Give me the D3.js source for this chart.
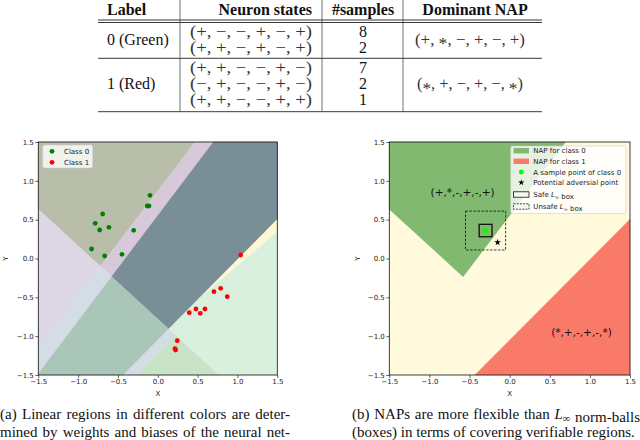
<!DOCTYPE html>
<html><head><meta charset="utf-8">
<script src="https://cdn.jsdelivr.net/npm/d3@7"></script>
<style>body{margin:0;background:#fff} svg{display:block}</style>
</head><body>
<script>
// ---------- data ----------
const tableHeaders = ["Label", "Neuron states", "#samples", "Dominant NAP"];
const tableLabels = ["0 (Green)", "1 (Red)"];
const neuronStates = [
  ["(+, −, −, +, −, +)", "(+, +, −, +, −, +)"],
  ["(+, +, −, −, +, −)", "(−, +, −, −, +, −)", "(+, +, −, −, +, +)"]
];
const sampleCounts = [[8, 2], [7, 2, 1]];
const dominantNAPs = ["(+, *, −, +, −, +)", "(*, +, −, +, −, *)"];

const tickValues = [-1.5, -1.0, -0.5, 0.0, 0.5, 1.0, 1.5];

const class0X = [-0.098, -0.132, -0.111, -0.692, -0.785, -0.613, -0.730, -0.303, -0.831, -0.667, -0.450];
const class0Y = [0.813, 0.676, 0.676, 0.573, 0.453, 0.401, 0.367, 0.363, 0.122, 0.032, 0.054];
const class1X = [1.040, 0.705, 0.789, 0.872, 0.395, 0.479, 0.533, 0.592, 0.245, 0.215, 0.224];
const class1Y = [0.045, -0.427, -0.384, -0.491, -0.697, -0.650, -0.706, -0.650, -1.058, -1.161, -1.178];

// neuron boundary lines (two points each, data coords)
const boundaryLines = {
  A: [[-1.5, 0.633], [0.764, -1.5]],
  B: [[-1.5, -1.148], [0.467, 1.5]],
  C: [[-1.5, -1.483], [0.697, 1.5]],
  D: [[-0.433, -1.5], [1.5, 0.504]],
  E: [[-0.266, -1.5], [1.5, 0.345]],
  F: [[0.5, -0.532], [1.5, 0.345]]
};
// linear regions: which side of each line
const leftRegions = [
  {id: "olive",   sides: [["A", 1], ["B", 1]]},
  {id: "pink",    sides: [["A", 1], ["B", -1], ["C", 1]]},
  {id: "slate",   sides: [["A", 1], ["C", -1], ["D", 1]]},
  {id: "yellow",  sides: [["A", 1], ["D", -1], ["F", 1]]},
  {id: "mint",    sides: [["A", 1], ["D", -1], ["F", -1]]},
  {id: "lavender",sides: [["A", -1], ["B", 1]]},
  {id: "blue1",   sides: [["A", -1], ["B", -1], ["C", 1]]},
  {id: "sage",    sides: [["A", -1], ["C", -1], ["D", 1]]},
  {id: "blue2",   sides: [["A", -1], ["D", -1], ["E", 1]]},
  {id: "pale",    sides: [["A", -1], ["E", -1]]}
];
const rightRegions = [
  {id: "nap0", sides: [["A", 1], ["C", 1]]},
  {id: "nap1", sides: [["D", -1]]}
];
const samplePoint = [-0.30, 0.36];
const adversarialPoint = [-0.15, 0.208];
const safeRadius = 0.08;
const unsafeRadius = 0.25;
const napLabels = [{text: "(+,*,-,+,-,+)", x: -0.586, y: 0.848}, {text: "(*,+,-,+,-,*)", x: 0.895, y: -0.955}];
const leftLegend = ["Class 0", "Class 1"];
const rightLegend = ["NAP for class 0", "NAP for class 1", "A sample point of class 0", "Potential adversial point", "Safe |L∞| box", "Unsafe |L∞| box"];
const captionA = ["(a) Linear regions in different colors are deter-", "mined by weights and biases of the neural net-"];
const captionB = ["(b) NAPs are more flexible than |L∞| norm-balls", "(boxes) in terms of covering verifiable regions."];

// ---------- styles ----------
const regionColors = {
  olive: "#b8bea9", pink: "#d8c9da", slate: "#7a8e97", yellow: "#fdf7d3", mint: "#d9f0de",
  lavender: "#dcd6e5", blue1: "#d4dce6", sage: "#a9c6b8", blue2: "#d4dce6", pale: "#c9e3c8",
  nap0: "#80b96f", nap1: "#fa7a6a"
};
const W = 640, H = 440;
const svg = d3.select("body").append("svg").attr("width", W).attr("height", H)
  .attr("font-family", "DejaVu Sans");

// ---------- table ----------
const serif = "Liberation Serif";
const tb = svg.append("g").attr("font-family", serif).attr("fill", "#111");
const tL = 98, tR = 542;
const colLines = [180, 322, 403];
const ruleYs = [20, 22.5, 58.3, 111.7];
ruleYs.forEach(y => tb.append("line").attr("x1", tL).attr("x2", tR).attr("y1", y).attr("y2", y).attr("stroke", "#222").attr("stroke-width", 0.9));
colLines.forEach(x => tb.append("line").attr("x1", x).attr("x2", x).attr("y1", 0).attr("y2", 111.7).attr("stroke", "#333").attr("stroke-width", 0.7));
const hdr = [{x: 107, a: "start"}, {x: 312, a: "end"}, {x: 363, a: "middle"}, {x: 475, a: "middle"}];
tableHeaders.forEach((h, i) => tb.append("text").attr("x", hdr[i].x).attr("y", 15).attr("text-anchor", hdr[i].a)
  .attr("font-weight", "bold").attr("font-size", 16).text(h));

function napText(sel, str) {
  // asterisks lowered to the math axis
  const chunks = str.split("*");
  chunks.forEach((c, i) => {
    if (i > 0) sel.append("tspan").attr("dy", 4.5).attr("font-size", 17).text("*");
    sel.append("tspan").attr("dy", i > 0 ? -4.5 : 0).text(c);
  });
}
const rowStart = [36.5, 73];
const step = 16;
tableLabels.forEach((lab, r) => {
  const n = neuronStates[r].length;
  const mid = rowStart[r] + (n - 1) * step / 2;
  tb.append("text").attr("x", 107).attr("y", mid).attr("font-size", 16).text(lab);
  neuronStates[r].forEach((s, k) => {
    tb.append("text").attr("x", 251).attr("y", rowStart[r] + k * step).attr("text-anchor", "middle")
      .attr("font-size", 16).attr("fill", "#333").attr("textLength", 122).attr("lengthAdjust", "spacingAndGlyphs").text(s);
    tb.append("text").attr("x", 363).attr("y", rowStart[r] + k * step).attr("text-anchor", "middle")
      .attr("font-size", 16).text(sampleCounts[r][k]);
  });
  const dt = tb.append("text").attr("x", 470).attr("y", mid).attr("text-anchor", "middle").attr("font-size", 16).attr("fill", "#333")
    .attr("textLength", r === 0 ? 110 : 106).attr("lengthAdjust", "spacingAndGlyphs");
  napText(dt, dominantNAPs[r]);
});

// ---------- geometry helpers ----------
function lineEq(name) {
  const [[x0, y0], [x1, y1]] = boundaryLines[name];
  const m = (y1 - y0) / (x1 - x0);
  return {m, c: y0 - m * x0};
}
function clip(poly, name, side) {
  const {m, c} = lineEq(name);
  const f = p => (p[1] - (m * p[0] + c)) * side;
  const out = [];
  for (let i = 0; i < poly.length; i++) {
    const a = poly[i], b = poly[(i + 1) % poly.length];
    const fa = f(a), fb = f(b);
    if (fa >= 0) out.push(a);
    if ((fa >= 0) !== (fb >= 0)) {
      const t = fa / (fa - fb);
      out.push([a[0] + t * (b[0] - a[0]), a[1] + t * (b[1] - a[1])]);
    }
  }
  return out;
}
function regionPoly(reg) {
  let poly = [[-1.5, -1.5], [1.5, -1.5], [1.5, 1.5], [-1.5, 1.5]];
  reg.sides.forEach(([n, s]) => { if (poly.length) poly = clip(poly, n, s); });
  return poly;
}
function mathText(sel, str, size) {
  // splits "|L∞|" into italic L with subscript ∞
  const parts = str.split("|");
  parts.forEach((p, i) => {
    if (i % 2 === 1) {
      sel.append("tspan").attr("font-style", "italic").text(p[0]);
      sel.append("tspan").attr("font-size", size * 0.7).attr("dy", size * 0.22).text(p.slice(1));
      sel.append("tspan").attr("dy", -size * 0.22).text("");
    } else sel.append("tspan").text(p);
  });
}

function drawAxes(g, x, y, ylabX) {
  const fs = 7;
  const x0 = x.range()[0], x1 = x.range()[1], y0 = y.range()[0], y1 = y.range()[1];
  const ax = g.append("g").attr("transform", `translate(0,${y0})`)
    .call(d3.axisBottom(x).tickValues(tickValues).tickSize(3).tickSizeOuter(0).tickFormat(d3.format(".1f")));
  const ay = g.append("g").attr("transform", `translate(${x0},0)`)
    .call(d3.axisLeft(y).tickValues(tickValues).tickSize(3).tickSizeOuter(0).tickFormat(d3.format(".1f")));
  [ax, ay].forEach(a => {
    a.select(".domain").remove();
    a.selectAll("text").attr("font-size", fs).attr("font-family", "DejaVu Sans").attr("fill", "#222");
    a.selectAll("line").attr("stroke", "#222").attr("stroke-width", 0.7);
  });
  ax.selectAll("text").attr("dy", "0.6em").attr("y", 4.5);
  ay.selectAll("text").attr("x", -4.5);
  g.append("rect").attr("x", x0).attr("y", y1).attr("width", x1 - x0).attr("height", y0 - y1)
    .attr("fill", "none").attr("stroke", "#111").attr("stroke-width", 0.8);
  g.append("text").attr("x", (x0 + x1) / 2).attr("y", y0 + 21).attr("text-anchor", "middle")
    .attr("font-size", fs).attr("fill", "#222").text("X");
  g.append("text").attr("transform", `translate(${ylabX},${(y0 + y1) / 2}) rotate(-90)`).attr("text-anchor", "middle")
    .attr("font-size", fs).attr("fill", "#222").text("Y");
}

// ---------- left plot ----------
const xL = d3.scaleLinear([-1.5, 1.5], [38.3, 277.3]);
const yP = d3.scaleLinear([-1.5, 1.5], [375, 142]);
const gL = svg.append("g");
const lineL = d3.line().x(d => xL(d[0])).y(d => yP(d[1]));
leftRegions.forEach(r => {
  const p = regionPoly(r);
  if (p.length > 2) gL.append("path").attr("d", lineL(p) + "Z").attr("fill", regionColors[r.id])
    .attr("stroke", regionColors[r.id]).attr("stroke-width", 0.4);
});
gL.selectAll(".c0").data(class0X.map((v, i) => [v, class0Y[i]])).join("circle")
  .attr("cx", d => xL(d[0])).attr("cy", d => yP(d[1])).attr("r", 2.4).attr("fill", "#008000");
gL.selectAll(".c1").data(class1X.map((v, i) => [v, class1Y[i]])).join("circle")
  .attr("cx", d => xL(d[0])).attr("cy", d => yP(d[1])).attr("r", 2.4).attr("fill", "#ff0000");
drawAxes(gL, xL, yP, 7.5);
// left legend
const lg = gL.append("g");
lg.append("rect").attr("x", 42.7).attr("y", 145).attr("width", 50).attr("height", 23).attr("rx", 2)
  .attr("fill", "#fff").attr("fill-opacity", 0.8).attr("stroke", "#ccc").attr("stroke-width", 0.6);
leftLegend.forEach((t, i) => {
  lg.append("circle").attr("cx", 52).attr("cy", 151.3 + i * 11).attr("r", 2.4).attr("fill", i ? "#ff0000" : "#008000");
  lg.append("text").attr("x", 64).attr("y", 153.8 + i * 11).attr("font-size", 7).attr("fill", "#222").text(t);
});

// ---------- right plot ----------
const xR = d3.scaleLinear([-1.5, 1.5], [389.3, 630]);
const gR = svg.append("g");
const lineR = d3.line().x(d => xR(d[0])).y(d => yP(d[1]));
gR.append("rect").attr("x", xR(-1.5)).attr("y", yP(1.5)).attr("width", xR(1.5) - xR(-1.5)).attr("height", yP(-1.5) - yP(1.5))
  .attr("fill", "#fffadb");
rightRegions.forEach(r => {
  const p = regionPoly(r);
  gR.append("path").attr("d", lineR(p) + "Z").attr("fill", regionColors[r.id]).attr("stroke", regionColors[r.id]).attr("stroke-width", 0.4);
});
napLabels.forEach(l => gR.append("text").attr("x", xR(l.x)).attr("y", yP(l.y) + 3.8).attr("text-anchor", "middle")
  .attr("font-size", 10.5).attr("fill", "#111").text(l.text));
gR.append("rect").attr("x", xR(samplePoint[0] - unsafeRadius)).attr("y", yP(samplePoint[1] + unsafeRadius))
  .attr("width", xR(2 * unsafeRadius) - xR(0)).attr("height", yP(0) - yP(2 * unsafeRadius))
  .attr("fill", "none").attr("stroke", "#111").attr("stroke-width", 0.8).attr("stroke-dasharray", "2.5,1.5");
gR.append("rect").attr("x", xR(samplePoint[0] - safeRadius)).attr("y", yP(samplePoint[1] + safeRadius))
  .attr("width", xR(2 * safeRadius) - xR(0)).attr("height", yP(0) - yP(2 * safeRadius))
  .attr("fill", "none").attr("stroke", "#111").attr("stroke-width", 1.3);
gR.append("circle").attr("cx", xR(samplePoint[0])).attr("cy", yP(samplePoint[1])).attr("r", 2.6).attr("fill", "#00ff00");
gR.append("path").attr("d", d3.symbol(d3.symbolStar, 14)()).attr("transform", `translate(${xR(adversarialPoint[0])},${yP(adversarialPoint[1])})`).attr("fill", "#000");
drawAxes(gR, xR, yP, 360);
// right legend
const rg = gR.append("g");
rg.append("rect").attr("x", 510.7).attr("y", 146).attr("width", 115.3).attr("height", 67.5).attr("rx", 2)
  .attr("fill", "#fff").attr("fill-opacity", 0.8).attr("stroke", "#ccc").attr("stroke-width", 0.6);
const legY = [150.7, 161.3, 172, 182.5, 194.5, 206.5];
rightLegend.forEach((t, i) => {
  const y = legY[i];
  if (i < 2) rg.append("rect").attr("x", 513.5).attr("y", y - 2.7).attr("width", 15.5).attr("height", 5.4).attr("fill", regionColors[i ? "nap1" : "nap0"]);
  else if (i === 2) rg.append("circle").attr("cx", 521.3).attr("cy", y).attr("r", 2.4).attr("fill", "#00ff00");
  else if (i === 3) rg.append("path").attr("d", d3.symbol(d3.symbolStar, 12)()).attr("transform", `translate(521.3,${y})`).attr("fill", "#000");
  else rg.append("rect").attr("x", 513.5).attr("y", y - 2.7).attr("width", 15.5).attr("height", 5.4).attr("fill", "#f7f7f2")
    .attr("stroke", "#111").attr("stroke-width", 0.8).attr("stroke-dasharray", i === 5 ? "2,1.2" : null);
  const tx = rg.append("text").attr("x", 533.3).attr("y", y + 2.5).attr("font-size", 7).attr("fill", "#222");
  mathText(tx, t, 7);
});

// ---------- captions ----------
function caption(lines, x0, width, yb) {
  lines.forEach((ln, i) => {
    const t = svg.append("text").attr("x", x0).attr("y", yb + i * 18).attr("font-family", serif).attr("font-size", 15).attr("fill", "#111");
    mathText(t, ln, 15);
    if (i < lines.length - 1 || /-$/.test(ln)) {
      const nat = t.node().getComputedTextLength();
      const spaces = (ln.match(/ /g) || []).length;
      if (spaces) t.attr("word-spacing", (width - nat) / spaces);
    }
  });
}
caption(captionA, 0, 290, 418.5);
caption(captionB, 352, 288, 418.5);
</script>
</body></html>
